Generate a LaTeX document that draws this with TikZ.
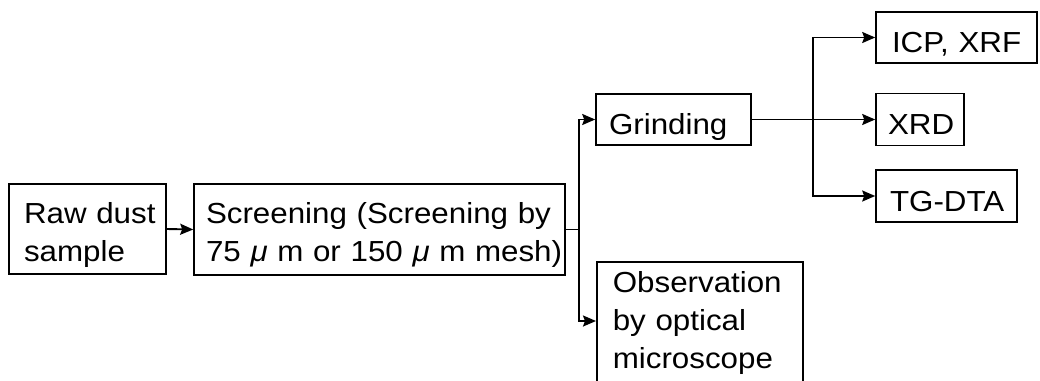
\documentclass[tikz,border=0pt]{standalone}
\usepackage{fontspec}
\setmainfont{Liberation Sans}[FakeStretch=1.08]
\usetikzlibrary{arrows.meta}
\begin{document}
\begin{tikzpicture}[x=1pt,y=-1pt,
  box/.style={draw, line width=1.6pt, align=left, inner ysep=0pt,
    font=\fontsize{29}{38}\selectfont},
  one/.style={text height=30pt, text depth=0pt},
  two/.style={text height=26pt, text depth=38pt},
  conn/.style={line width=1.9pt},
  arr/.style={conn, -{Stealth[length=13pt,width=11pt,inset=2pt]}}]
\useasboundingbox[fill=white] (0,0) rectangle (1040,380);
\clip (0,0) rectangle (1040,380);
\node[box, two, minimum width=157pt, minimum height=90pt, inner xsep=15pt, text width=127pt] (raw) at (87.5,229) {\mbox{Raw dust}\\\mbox{sample}};
\node[box, two, minimum width=371pt, minimum height=91pt, inner xsep=12pt, text width=347pt] (scr) at (379.5,229.5) {\mbox{Screening (Screening by}\\\mbox{75 \textit{μ} m or 150 \textit{μ} m mesh)}};
\node[box, one, minimum width=155pt, minimum height=51pt, inner xsep=13pt, text width=129pt] (grd) at (673.5,119.5) {\mbox{Grinding}};
\node[box, one, minimum width=161pt, minimum height=51pt, inner xsep=16pt, text width=129pt] (icp) at (956.5,37.5) {\mbox{ICP, XRF}};
\node[box, one, minimum width=88pt, minimum height=52pt, inner xsep=12pt, text width=64pt] (xrd) at (920,119.5) {\mbox{XRD}};
\node[box, one, minimum width=141pt, minimum height=52pt, inner xsep=14pt, text width=113pt] (tg) at (946.5,196) {\mbox{TG-DTA}};
\node[box, anchor=north west, minimum width=206pt, inner xsep=16pt, text height=31pt, text depth=108pt, text width=174pt] (obs) at (596,261) {Observation\\by optical\\microscope};
\coordinate (j1) at (579,229.5);
\coordinate (j2) at (813,119.5);
\draw[arr] (raw.east) -- (scr.west);
\draw[conn] (scr.east) -- (j1);
\draw[arr] (j1) |- (grd.west);
\draw[arr] (j1) |- ([yshift=-60pt]obs.north west);
\draw[arr] (grd.east) -- (xrd.west);
\draw[arr] (j2) |- (icp.west);
\draw[arr] (j2) |- (tg.west);
\end{tikzpicture}
\end{document}
